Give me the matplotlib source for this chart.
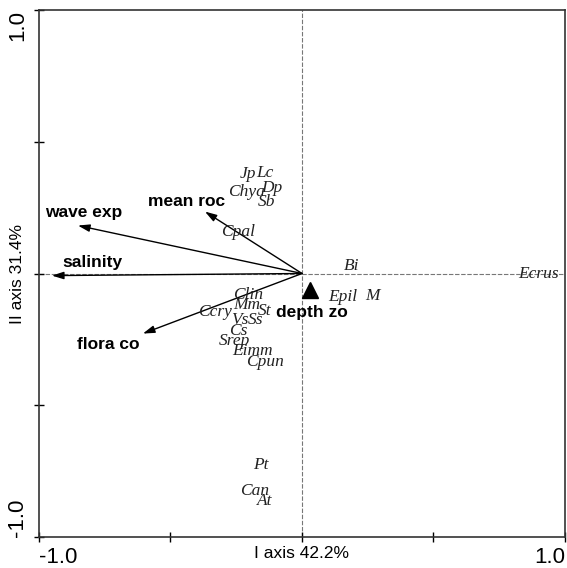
import matplotlib.pyplot as plt

# ---- Data ----
# environmental vectors (arrow tips)
env_names = ['wave exp', 'mean roc', 'salinity', 'flora co']
env_x = [-0.852, -0.369, -0.951, -0.605]
env_y = [0.182, 0.235, -0.008, -0.228]

# nominal variable centroid
cent_name = 'depth zo'
cent_x = 0.030
cent_y = -0.061

# species scores
sp_names = ['Jp', 'Lc', 'Chya', 'Dp', 'Sb', 'Cpal', 'Bi', 'Ecrus', 'Epil', 'M',
            'Clin', 'Mm', 'St', 'Ccry', 'Vs', 'Ss', 'Cs', 'Srep', 'Eimm', 'Cpun',
            'Pt', 'Can', 'At']
sp_x = [-0.205, -0.141, -0.213, -0.114, -0.133, -0.243, 0.190, 0.901, 0.156, 0.266,
        -0.205, -0.209, -0.141, -0.331, -0.236, -0.175, -0.243, -0.255, -0.190, -0.141,
        -0.156, -0.179, -0.141]
sp_y = [0.376, 0.383, 0.311, 0.326, 0.273, 0.159, 0.027, 0.000, -0.091, -0.087,
        -0.080, -0.118, -0.144, -0.148, -0.178, -0.178, -0.220, -0.258, -0.296, -0.334,
        -0.725, -0.827, -0.865]

xlabel = 'I axis 42.2%'
ylabel = 'II axis 31.4%'

# label offsets from arrow tips (pixels)
env_offsets = [(-33, 13), (-57, 10), (10, 13), (-66, -11)]
cent_offset = (-34, -23)

# ---- Plotting ----
fig = plt.figure(figsize=(5.67, 5.68), dpi=100)
ax = fig.add_axes([39 / 567, 31 / 568, 526 / 567, 527 / 568])
ax.set_xlim(-1, 1)
ax.set_ylim(-1, 1)

ax.axhline(0, color='#777777', lw=0.8, ls=(0, (4, 1.5)), zorder=1)
ax.axvline(0, color='#777777', lw=0.8, ls=(0, (4, 1.5)), zorder=1)

for name, x, y, off in zip(env_names, env_x, env_y, env_offsets):
    ax.annotate('', xy=(x, y), xytext=(0, 0),
                arrowprops=dict(arrowstyle='-|>,head_length=0.7,head_width=0.22',
                                color='black', lw=1.0, shrinkA=0, shrinkB=0))
    ax.annotate(name, xy=(x, y), xytext=off, textcoords='offset pixels',
                ha='left', va='center', fontsize=12.5, fontweight='bold',
                family='Liberation Sans', color='black')

ax.plot(cent_x, cent_y, '^', color='black', markersize=11, zorder=3)
ax.annotate(cent_name, xy=(cent_x, cent_y), xytext=cent_offset, textcoords='offset pixels',
            ha='left', va='center', fontsize=12.5, fontweight='bold',
            family='Liberation Sans', color='black')

for name, x, y in zip(sp_names, sp_x, sp_y):
    ax.text(x, y, name, ha='center', va='center', fontsize=12.5, style='italic',
            family='Liberation Serif', color='#222222')

ax.set_xticks([-1, -0.5, 0, 0.5, 1])
ax.set_yticks([-1, -0.5, 0, 0.5, 1])
ax.set_xticklabels(['-1.0', '', '', '', '1.0'], family='Liberation Sans', fontsize=16)
ax.set_yticklabels(['-1.0', '', '', '', '1.0'], family='Liberation Sans', fontsize=16,
                   rotation=90)
ax.tick_params(direction='inout', length=7, width=1, pad=4)
xt = ax.get_xticklabels()
xt[0].set_ha('left')
xt[-1].set_ha('right')
yt = ax.get_yticklabels()
yt[0].set_va('bottom')
yt[-1].set_va('top')
for lab in yt:
    lab.set_ha('center')
ax.tick_params(axis='y', pad=12)

ax.text(0.5, -0.032, xlabel, transform=ax.transAxes, ha='center', va='center',
        fontsize=12.5, family='Liberation Sans')
ax.text(-0.04, 0.5, ylabel, transform=ax.transAxes, ha='center', va='center',
        rotation=90, fontsize=12.5, family='Liberation Sans')

for sp in ax.spines.values():
    sp.set_linewidth(1.2)
    sp.set_color('#333333')

plt.savefig('out.png', dpi=100)
